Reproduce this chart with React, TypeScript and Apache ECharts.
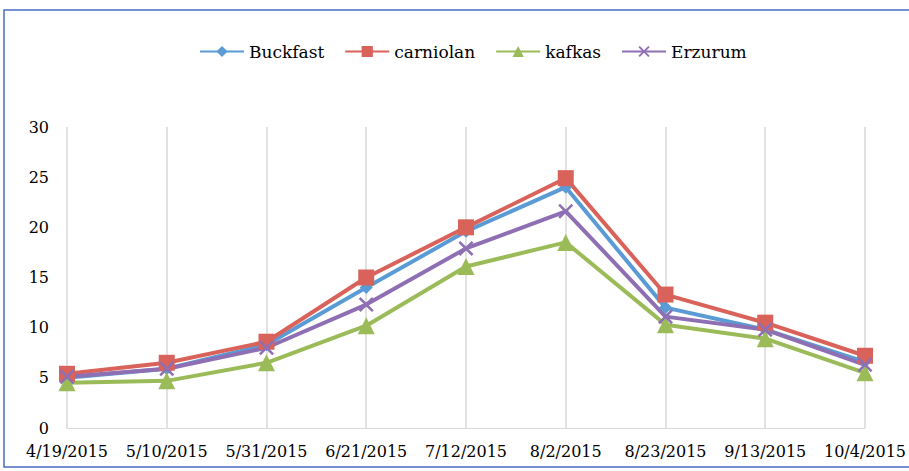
import React, { useEffect, useRef } from "react";
import * as echarts from "echarts";

const categories = ["4/19/2015", "5/10/2015", "5/31/2015", "6/21/2015", "7/12/2015", "8/2/2015", "8/23/2015", "9/13/2015", "10/4/2015"];
const buckfast = [5.0, 5.9, 8.3, 14.0, 19.6, 24.0, 12.0, 9.8, 6.6];
const carniolan = [5.4, 6.5, 8.6, 15.0, 20.0, 24.9, 13.3, 10.5, 7.2];
const kafkas = [4.5, 4.7, 6.5, 10.2, 16.1, 18.5, 10.3, 8.9, 5.5];
const erzurum = [5.1, 5.9, 8.0, 12.3, 17.9, 21.6, 11.1, 9.8, 6.3];

const FONT = "DejaVu Serif";
const X_SYMBOL = "path://M0,1.2 L1.2,0 L5,3.8 L8.8,0 L10,1.2 L6.2,5 L10,8.8 L8.8,10 L5,6.2 L1.2,10 L0,8.8 L3.8,5 Z";

export default function App() {
  const ref = useRef<HTMLDivElement>(null);
  useEffect(() => {
    if (!ref.current) return;
    const chart = echarts.init(ref.current, undefined, { renderer: "svg" });
    const mk = (name: string, data: number[], color: string, symbol: string, size: number) => ({
      name,
      type: "line",
      data,
      symbol,
      symbolSize: size,
      lineStyle: { width: 4, color },
      itemStyle: { color },
    });
    chart.setOption({
      animation: false,
      backgroundColor: "#ffffff",
      textStyle: { fontFamily: FONT },
      graphic: [
        {
          type: "rect",
          shape: { x: 4, y: 10, width: 920, height: 457 },
          style: { fill: "none", stroke: "#4a6ec4", lineWidth: 1.5 },
          silent: true,
        },
      ],
      legend: {
        top: 38,
        left: 194,
        itemWidth: 44,
        itemHeight: 14,
        itemGap: 20,
        textStyle: { fontFamily: FONT, fontSize: 17, color: "#000" },
        data: ["Buckfast", "carniolan", "kafkas", "Erzurum"],
      },
      grid: { left: 67, right: 43, top: 127, bottom: 43, containLabel: false },
      xAxis: {
        type: "category",
        data: categories,
        boundaryGap: false,
        axisLine: { lineStyle: { color: "#d9d9d9", width: 1 } },
        axisTick: { show: false },
        splitLine: { show: true, lineStyle: { color: "#d9d9d9", width: 1.5 } },
        axisLabel: { fontFamily: FONT, fontSize: 16, color: "#000", margin: 15, interval: 0 },
      },
      yAxis: {
        type: "value",
        min: 0,
        max: 30,
        interval: 5,
        axisLine: { show: false },
        axisTick: { show: false },
        splitLine: { show: false },
        axisLabel: { fontFamily: FONT, fontSize: 16, color: "#000", margin: 18 },
      },
      series: [
        mk("Buckfast", buckfast, "#5b9bd5", "diamond", 13),
        mk("carniolan", carniolan, "#d9625b", "rect", 16),
        mk("kafkas", kafkas, "#9bbb59", "triangle", 17),
        mk("Erzurum", erzurum, "#8e6fb3", X_SYMBOL, 15),
      ],
    });
    return () => chart.dispose();
  }, []);
  return <div ref={ref} style={{ position: "fixed", left: 0, top: 0, width: 909, height: 471 }} />;
}
